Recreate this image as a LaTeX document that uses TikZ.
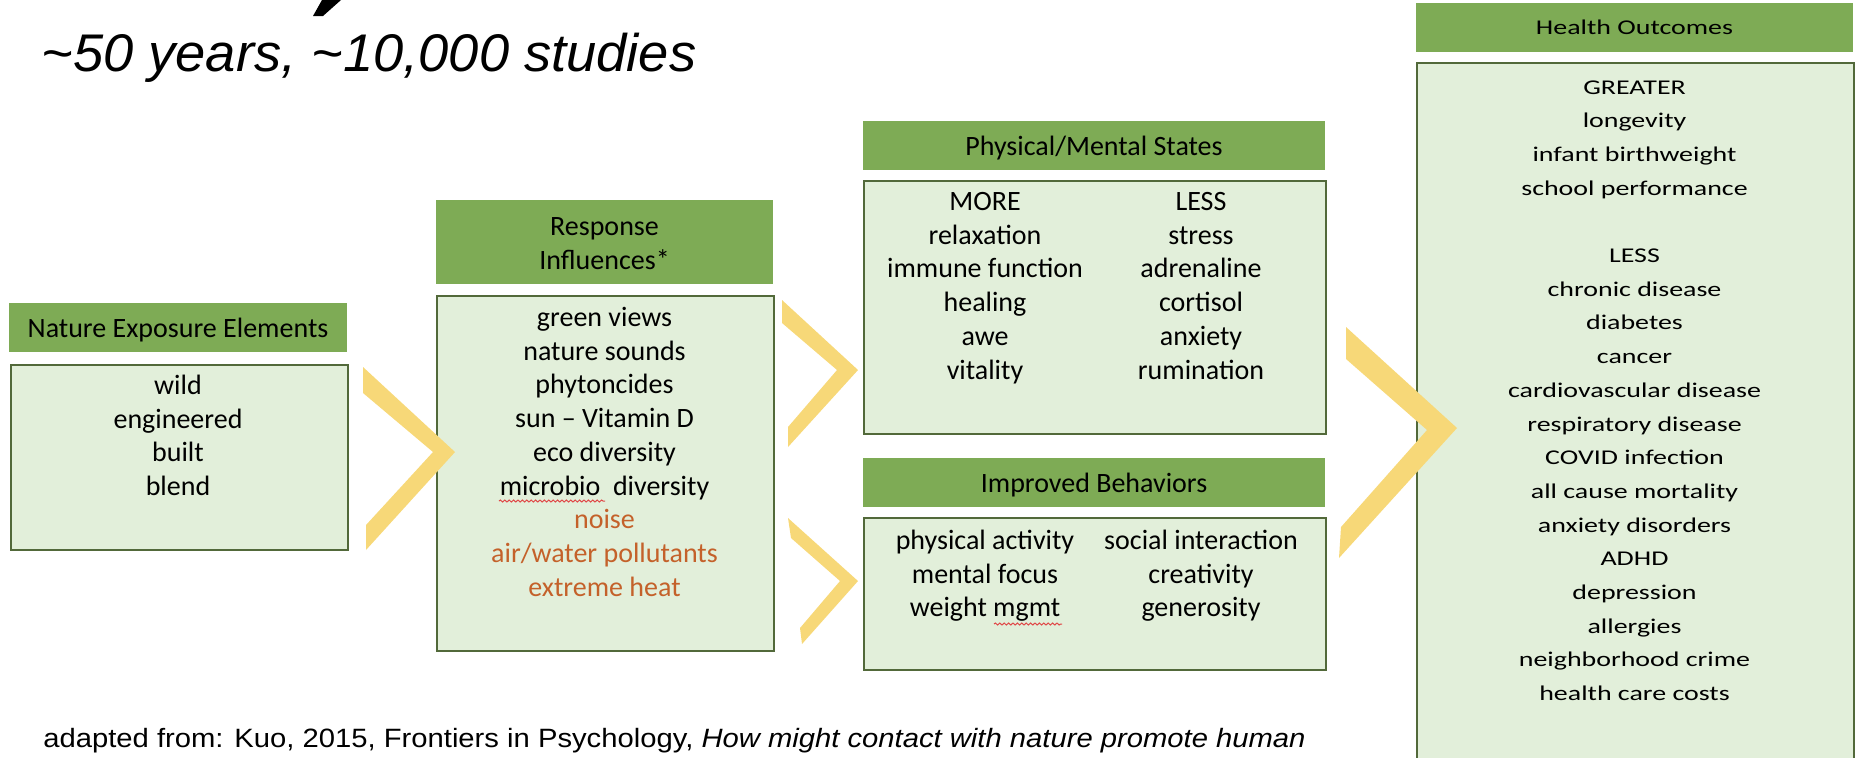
\documentclass[tikz,border=0pt]{standalone}
\usepackage{fontspec}
\setmainfont{Carlito}
\newfontfamily\widefont{Carlito}[FakeStretch=1.33]
\newfontfamily\arialfont{Liberation Sans}
\usetikzlibrary{decorations.pathmorphing}

\definecolor{hdrgreen}{HTML}{7EAB55}
\definecolor{bodygreen}{HTML}{E2EFDA}
\definecolor{edgegreen}{HTML}{52693A}
\definecolor{chevyellow}{HTML}{F7D878}
\definecolor{warnorange}{HTML}{C4612A}
\definecolor{squiggle}{HTML}{E04848}

\newcommand{\bodyfont}{\fontsize{14}{16.85}\selectfont}
\newcommand{\outfont}{\widefont\fontsize{10.5}{16.85}\selectfont}
\newcommand{\stack}[1]{\begin{tabular}[t]{@{}c@{}}#1\end{tabular}}

\begin{document}
\begin{tikzpicture}[x=0.5pt, y=-0.5pt,
  hdrbox/.style={fill=hdrgreen, draw=none, inner sep=0pt, anchor=north west},
  bodybox/.style={fill=bodygreen, draw=edgegreen, line width=1pt, inner sep=0pt, anchor=north west},
  txt/.style={inner sep=0pt, anchor=base, font=\bodyfont},
  chev/.style={fill=chevyellow, draw=none},
  spell/.style={draw=squiggle, line width=0.5pt, decorate,
    decoration={snake, amplitude=0.5pt, segment length=2.2pt}}]
\useasboundingbox (0,0) rectangle (1856,757);

% --- title and the tail of the heading above it
\fill (322,0) -- (341,0) -- (323,16) -- (313,16) -- cycle;
\node[inner sep=0pt, anchor=base west] (subtitle) at (41,71)
  {\resizebox{327.5pt}{\height}{\arialfont\itshape\fontsize{26.5}{30}\selectfont
   \textasciitilde 50 years, \textasciitilde 10,000 studies}};

% --- boxes
\node[hdrbox, minimum width=169pt,   minimum height=24.5pt] (natH) at (9,303) {};
\node[bodybox, minimum width=168.5pt, minimum height=92.5pt] (natB) at (10,364) {};

\node[hdrbox, minimum width=168.5pt, minimum height=42pt]   (resH) at (436,200) {};
\node[bodybox, minimum width=168.5pt, minimum height=177.5pt] (resB) at (436,295) {};

\node[hdrbox, minimum width=231pt, minimum height=24.5pt] (phyH) at (863,121) {};
\node[bodybox, minimum width=231pt, minimum height=126.5pt] (phyB) at (863,180) {};

\node[hdrbox, minimum width=231pt, minimum height=24.5pt] (behH) at (863,458) {};
\node[bodybox, minimum width=231pt, minimum height=76pt] (behB) at (863,517) {};

\node[hdrbox, minimum width=218.5pt, minimum height=24.5pt] (outH) at (1416,3) {};
\node[bodybox, minimum width=218.5pt, minimum height=360pt] (outB) at (1416,62) {};

% --- chevrons between the stages
\fill[chev] (363,367) -- (455,452) -- (366,550) -- (366,525) -- (433,452) -- (363,393) -- cycle;
\fill[chev] (782,300) -- (858,370) -- (788,447) -- (788,427) -- (837,370) -- (782,323) -- cycle;
\fill[chev] (788,518) -- (858,581) -- (802,644) -- (800,628) -- (840,581) -- (791,538) -- cycle;
\fill[chev] (1346,327) -- (1457,428) -- (1339,558) -- (1341,527) -- (1427,430) -- (1346,359) -- cycle;

% --- header labels
\node[txt] (natHt) at (178,337) {Nature Exposure Elements};
\node[txt] (resHt) at (604.5,235) {\fontsize{14}{17}\selectfont\stack{Response\\Influences*}};
\node[txt] (phyHt) at (1094,155.5) {Physical/Mental States};
\node[txt] (behHt) at (1094,492.5) {Improved Behaviors};
\node[txt, font=\outfont] (outHt) at (1634.5,34) {Health Outcomes};

% --- box contents
\node[txt] (natT) at (178,394.5) {\stack{wild\\engineered\\built\\blend}};
\node[txt] (resT) at (604.5,326.5) {\stack{green views\\nature sounds\\phytoncides\\
  sun -- Vitamin D\\eco diversity\\microbio~~diversity\\
  \textcolor{warnorange}{noise}\\\textcolor{warnorange}{air/water pollutants}\\
  \textcolor{warnorange}{extreme heat}}};
\node[txt] (phyL) at (985,210.5) {\stack{MORE\\relaxation\\immune function\\healing\\awe\\vitality}};
\node[txt] (phyR) at (1201,210.5) {\stack{LESS\\stress\\adrenaline\\cortisol\\anxiety\\rumination}};
\node[txt] (behL) at (985,549.5) {\stack{physical activity\\mental focus\\weight mgmt}};
\node[txt] (behR) at (1201,549.5) {\stack{social interaction\\creativity\\generosity}};
\node[txt, font=\outfont] (outT) at (1634.5,94) {\outfont\stack{GREATER\\longevity\\infant birthweight\\
  school performance\\ \\LESS\\chronic disease\\diabetes\\cancer\\cardiovascular disease\\
  respiratory disease\\COVID infection\\all cause mortality\\anxiety disorders\\ADHD\\
  depression\\allergies\\neighborhood crime\\health care costs}};

% --- spell-check marks
\draw[spell] (499,501) -- (605,501);
\draw[spell] (994,624) -- (1062,624);

% --- source line
\node[inner sep=0pt, anchor=base west] (source) at (43,747)
  {\resizebox{631pt}{\height}{\arialfont\fontsize{13.25}{16}\selectfont
   adapted from: Kuo, 2015, Frontiers in Psychology, \textit{How might contact with nature promote human}}};
\end{tikzpicture}
\end{document}
